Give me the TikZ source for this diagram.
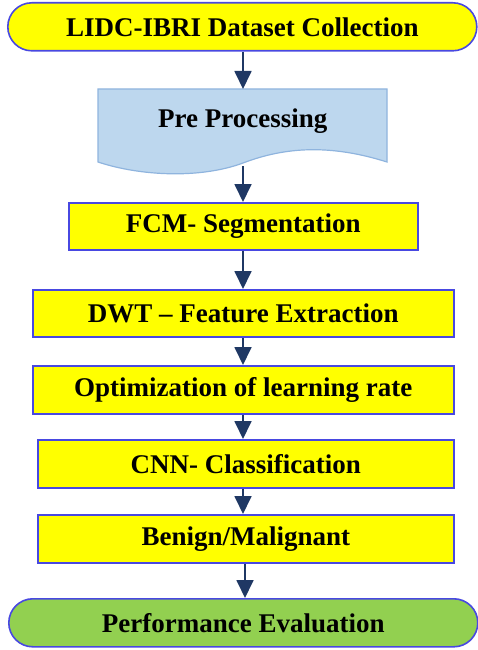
\documentclass[tikz,border=0pt]{standalone}
\usepackage{fontspec}
\setmainfont{Liberation Serif}
\usetikzlibrary{arrows.meta}

\definecolor{boxyellow}{HTML}{FFFF00}
\definecolor{boxline}{RGB}{72,72,225}
\definecolor{arrownavy}{HTML}{1F3864}
\definecolor{docfill}{HTML}{BDD7EE}
\definecolor{docline}{HTML}{8FB4DE}
\definecolor{endgreen}{HTML}{92D050}

\tikzset{
  x=1pt, y=-1pt,
  label text/.style={font=\fontsize{27}{30}\selectfont\bfseries, text=black},
  stepbox/.style={label text, draw=boxline, line width=1.6pt, fill=boxyellow,
                  inner sep=0pt, anchor=north west},
  terminal/.style={label text, draw=boxline, line width=1.6pt, rounded corners=24pt,
                   inner sep=0pt, anchor=north west},
  flow/.style={draw=arrownavy, line width=1.8pt,
               -{Triangle[length=18pt,width=17pt]}}
}

\begin{document}
\begin{tikzpicture}
\useasboundingbox (0,0) rectangle (478,650);

% start terminal
\node[terminal, fill=boxyellow, minimum width=469pt, minimum height=48pt] (start) at (7,2)
  {LIDC-IBRI Dataset Collection};

% document-shaped pre-processing step
\draw[draw=docline, line width=1.2pt, fill=docfill]
  (98,89) -- (387,89) -- (387,162)
  .. controls (330,144) and (285,147) .. (243,163)
  .. controls (200,179) and (140,176) .. (98,162) -- cycle;
\node[label text, inner sep=0pt, minimum width=289pt, minimum height=64pt, anchor=north west]
  (pre) at (98,89) {Pre Processing};
\coordinate (preout) at (243,166);

% processing steps
\node[stepbox, minimum width=349pt, minimum height=47pt] (fcm) at (68,202) {FCM- Segmentation};
\node[stepbox, minimum width=421pt, minimum height=47pt] (dwt) at (32,289) {DWT -- Feature Extraction};
\node[stepbox, minimum width=421pt, minimum height=48pt] (opt) at (32,365) {Optimization of learning rate};
\node[stepbox, minimum width=416pt, minimum height=48pt] (cnn) at (37,439) {CNN- Classification};
\node[stepbox, minimum width=416pt, minimum height=48pt] (ben) at (37,514) {Benign/Malignant};

% end terminal
\node[terminal, fill=endgreen, minimum width=469pt, minimum height=48pt] (perf) at (8,598)
  {Performance Evaluation};

% connectors
\coordinate (ax) at (243,0);
\coordinate (bx) at (245,0);
\draw[flow] (start.south -| ax) -- (pre.north -| ax);
\draw[flow] (preout) -- (fcm.north -| ax);
\draw[flow] (fcm.south -| ax) -- (dwt.north -| ax);
\draw[flow] (dwt.south -| ax) -- (opt.north -| ax);
\draw[flow] (opt.south -| ax) -- (cnn.north -| ax);
\draw[flow] (cnn.south -| ax) -- (ben.north -| ax);
\draw[flow] (ben.south -| bx) -- (perf.north -| bx);
\end{tikzpicture}
\end{document}
